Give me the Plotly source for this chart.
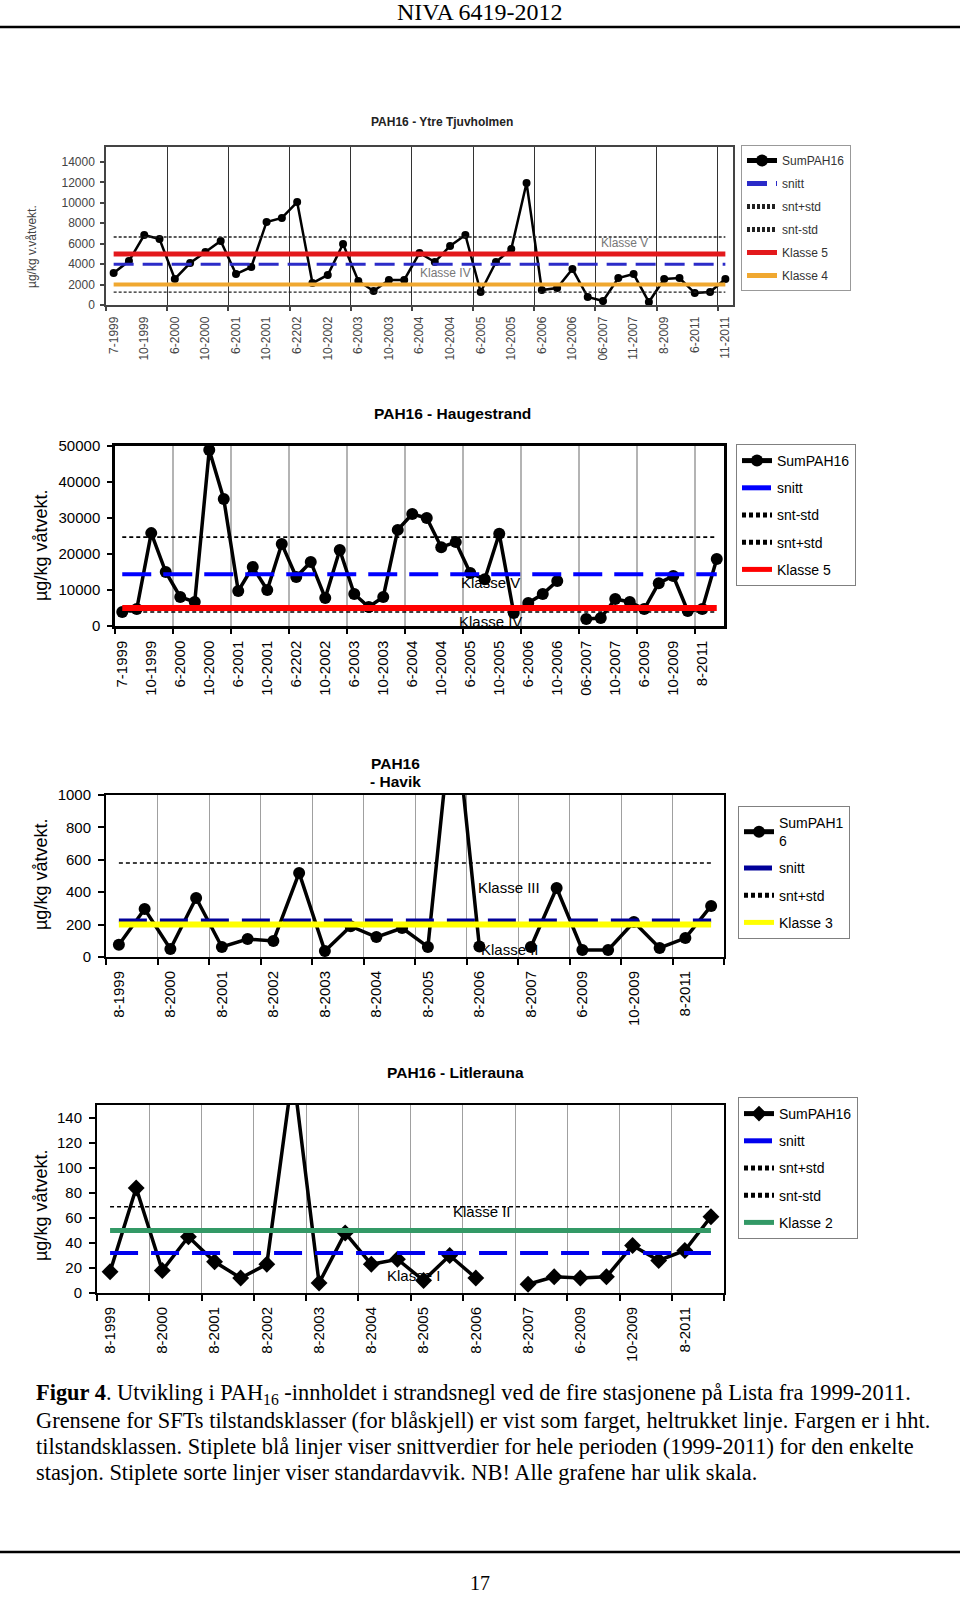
import plotly.graph_objects as go

W, H = 960, 1597
def px(x): return x / W
def py(y): return 1 - y / H

SANS = "Liberation Sans, Arial, sans-serif"
SERIF = "Liberation Serif, Times New Roman, serif"

# ---------------- data ----------------
# PAH16 - Ytre Tjuvholmen
ytre_labels = ["7-1999", "10-1999", "6-2000", "10-2000", "6-2001", "10-2001", "6-2202",
               "10-2002", "6-2003", "10-2003", "6-2004", "10-2004", "6-2005", "10-2005",
               "6-2006", "10-2006", "06-2007", "11-2007", "8-2009", "6-2011", "11-2011"]
ytre_sum = [3130, 4300, 6850, 6460, 2550, 4110, 5190, 6270, 3030, 3720, 8130, 8520, 10080,
            2150, 2940, 5970, 2350, 1370, 2450, 2450, 5090, 4210, 5780, 6850, 1270, 4210,
            5480, 11940, 1470, 1660, 3520, 780, 390, 2640, 3030, 290, 2550, 2640, 1170,
            1270, 2550]
ytre_snitt = 4000
ytre_snt_plus = 6660
ytre_snt_minus = 1270
ytre_klasse5 = 5000
ytre_klasse4 = 2000

# PAH16 - Haugestrand
haug_labels = ["7-1999", "10-1999", "6-2000", "10-2000", "6-2001", "10-2001", "6-2202",
               "10-2002", "6-2003", "10-2003", "6-2004", "10-2004", "6-2005", "10-2005",
               "6-2006", "10-2006", "06-2007", "10-2007", "6-2009", "10-2009", "8-2011"]
haug_sum = [3890, 4700, 25800, 15000, 8060, 6670, 48900, 35300, 9720, 16400, 10000, 22800,
            13600, 17800, 7780, 21100, 8890, 5280, 8060, 26700, 31100, 30000, 21900, 23300,
            14700, 13000, 25600, 3610, 6390, 8890, 12500, None, 1940, 2220, 7500, 6670,
            4720, 11900, 13900, 4170, 4720, 18600]
haug_snitt = 14400
haug_snt_minus = 3900
haug_snt_plus = 24700
haug_klasse5 = 5000

# PAH16 - Havik
havik_labels = ["8-1999", "8-2000", "8-2001", "8-2002", "8-2003", "8-2004", "8-2005",
                "8-2006", "8-2007", "6-2009", "10-2009", "8-2011"]
havik_sum = [75, 296, 49, 364, 62, 111, 99, 519, 37, 190, 123, 179, 62, 1600, 65, None,
             62, 426, 43, 43, 216, 56, 117, 315]
havik_snitt = 225
havik_snt_plus = 580
havik_klasse3 = 200

# PAH16 - Litlerauna
litle_labels = ["8-1999", "8-2000", "8-2001", "8-2002", "8-2003", "8-2004", "8-2005",
                "8-2006", "8-2007", "6-2009", "10-2009", "8-2011"]
litle_sum = [17, 84, 18, 45, 25, 12, 23, 178, 8, 48, 23, 27, 10, 30, 12, None, 7, 13, 12,
             13, 38, 26, 34, 61]
litle_snitt = 32
litle_snt_plus = 69
litle_snt_minus = -5
litle_klasse2 = 50

fig = go.Figure()


def axref(i):
    return ("x", "y") if i == 1 else (f"x{i}", f"y{i}")


def legref(i):
    return "legend" if i == 1 else f"legend{i}"


def add_series(i, values, name, marker_symbol, msize, lwidth):
    xr, yr = axref(i)
    fig.add_trace(go.Scatter(
        x=list(range(1, len(values) + 1)), y=values, name=name, mode="lines+markers",
        line=dict(color="black", width=lwidth),
        marker=dict(symbol=marker_symbol, size=msize, color="black"),
        connectgaps=False, xaxis=xr, yaxis=yr, legend=legref(i),
        legendgroup=f"{i}-{name}", hoverinfo="skip"))


def add_const(i, n, value, name, color, width, dash):
    xr, yr = axref(i)
    fig.add_trace(go.Scatter(
        x=list(range(1, n + 1)), y=[value] * n, name=name, mode="lines",
        line=dict(color=color, width=width, dash=dash),
        xaxis=xr, yaxis=yr, legend=legref(i), legendgroup=f"{i}-{name}",
        hoverinfo="skip"))


layout_axes = {}


def set_axes(i, xdom, ydom, n, labels, grid_step, yrange, dtick, font, gridcolor,
             gridwidth, linecolor, linewidth, xstand, ystand, ticklen):
    xname = "xaxis" if i == 1 else f"xaxis{i}"
    yname = "yaxis" if i == 1 else f"yaxis{i}"
    xr, yr = axref(i)
    layout_axes[xname] = dict(
        domain=[px(xdom[0]), px(xdom[1])], anchor=yr, range=[0.5, n + 0.5],
        tickmode="array", tickvals=list(range(1, n + 1, 2)), ticktext=labels,
        tickangle=-90, ticks="", showgrid=False, zeroline=False, automargin=False,
        showline=True, linecolor=linecolor, linewidth=linewidth, mirror=True,
        tickfont=font, ticklabelstandoff=xstand,
        minor=dict(tickmode="array",
                   tickvals=[0.5 + k * grid_step for k in range(n // grid_step + 1)],
                   ticks="outside", ticklen=ticklen, tickcolor=linecolor, tickwidth=1.5,
                   showgrid=True, gridcolor=gridcolor, gridwidth=gridwidth),
    )
    layout_axes[yname] = dict(
        domain=[py(ydom[1]), py(ydom[0])], anchor=xr, range=yrange, dtick=dtick,
        tick0=0, tickformat="d", ticks="outside", ticklen=ticklen, tickcolor=linecolor,
        tickwidth=1.5, showgrid=False, zeroline=False, showline=True, automargin=False,
        linecolor=linecolor, linewidth=linewidth, mirror=True, tickfont=font,
        ticklabelstandoff=ystand,
    )


# ---------- chart 1: Ytre Tjuvholmen ----------
n1 = len(ytre_sum)
add_series(1, ytre_sum, "SumPAH16", "circle", 8, 2.5)
add_const(1, n1, ytre_snitt, "snitt", "#2b2bc8", 3, "20px,9px")
add_const(1, n1, ytre_snt_plus, "snt+std", "#222222", 1.3, "3px,2px")
add_const(1, n1, ytre_snt_minus, "snt-std", "#222222", 1.3, "3px,2px")
add_const(1, n1, ytre_klasse5, "Klasse 5", "#e3191c", 5, "solid")
add_const(1, n1, ytre_klasse4, "Klasse 4", "#f0a830", 4, "solid")
set_axes(1, (106, 733), (147, 305), n1, ytre_labels, 4, [0, 15470], 2000,
         dict(family=SANS, size=12, color="#444"), "#333333", 1, "#444444", 1.5, 5, 3, 4)

# ---------- chart 2: Haugestrand ----------
n2 = len(haug_sum)
add_series(2, haug_sum, "SumPAH16", "circle", 12, 3.5)
add_const(2, n2, haug_snitt, "snitt", "#0000ff", 4, "29px,12px")
add_const(2, n2, haug_snt_minus, "snt-std", "black", 1.6, "4px,3px")
add_const(2, n2, haug_snt_plus, "snt+std", "black", 1.6, "4px,3px")
add_const(2, n2, haug_klasse5, "Klasse 5", "#ff0000", 6, "solid")
set_axes(2, (115, 724), (446, 626), n2, haug_labels, 4, [0, 50000], 10000,
         dict(family=SANS, size=15, color="black"), "#b4b4b4", 1.5, "black", 2.5, 6, 4, 5)

# ---------- chart 3: Havik ----------
n3 = len(havik_sum)
add_series(3, havik_sum, "SumPAH1<br>6", "circle", 12, 3.5)
add_const(3, n3, havik_snitt, "snitt", "#000099", 4, "28px,13px")
add_const(3, n3, havik_snt_plus, "snt+std", "black", 1.6, "4px,3px")
add_const(3, n3, havik_klasse3, "Klasse 3", "#ffff00", 6, "solid")
set_axes(3, (106, 724), (795, 957), n3, havik_labels, 2, [0, 1000], 200,
         dict(family=SANS, size=15, color="black"), "#a0a0a0", 1, "black", 2, 6, 4, 6)

# ---------- chart 4: Litlerauna ----------
n4 = len(litle_sum)
add_series(4, litle_sum, "SumPAH16", "diamond", 13, 3.5)
add_const(4, n4, litle_snitt, "snitt", "#0000ee", 4, "28px,13px")
add_const(4, n4, litle_snt_plus, "snt+std", "black", 1.6, "4px,3px")
add_const(4, n4, litle_snt_minus, "snt-std", "black", 1.6, "4px,3px")
add_const(4, n4, litle_klasse2, "Klasse 2", "#339966", 5, "solid")
set_axes(4, (97, 724), (1105, 1293), n4, litle_labels, 2, [0, 150.4], 20,
         dict(family=SANS, size=15, color="black"), "#a0a0a0", 1, "black", 2, 6, 4, 6)


def legend_cfg(x, y, size, color, border, gap):
    return dict(x=px(x), y=py(y), xanchor="left", yanchor="top", xref="paper", yref="paper",
                bgcolor="white", bordercolor=border, borderwidth=1,
                font=dict(family=SANS, size=size, color=color),
                traceorder="grouped", tracegroupgap=gap, itemsizing="constant")


annotations = []


def text(x, y, s, size, color="black", family=SANS, angle=0, xanchor="center",
         xref="paper", yref="paper"):
    annotations.append(dict(x=x, y=y, xref=xref, yref=yref, text=s, showarrow=False,
                            textangle=angle, xanchor=xanchor, yanchor="middle",
                            font=dict(family=family, size=size, color=color)))


# header / footer
text(0.5, py(12), "NIVA 6419-2012", 24, family=SERIF)
text(0.5, py(1583), "17", 20, family=SERIF)

# chart titles
text(px(442), py(122), "<b>PAH16 - Ytre Tjuvholmen</b>", 12, color="#222")
text(px(452), py(414), "<b>PAH16 - Haugestrand</b>", 15.5)
text(px(395), py(763), "<b>PAH16</b>", 15.5)
text(px(395), py(781), "<b>- Havik</b>", 15.5)
text(px(455), py(1072), "<b>PAH16 - Litlerauna</b>", 15.5)

# y axis titles
text(px(32), py(247), "µg/kg v.våtvekt.", 12, color="#444", angle=-90)
text(px(41), py(546), "µg/kg våtvekt.", 18, angle=-90)
text(px(41), py(875), "µg/kg våtvekt.", 18, angle=-90)
text(px(41), py(1206), "µg/kg våtvekt.", 18, angle=-90)

# class labels inside plots
text(34.4, 6070, "Klasse V", 12, color="#777", xref="x", yref="y")
text(22.7, 3130, "Klasse IV", 12, color="#777", xref="x", yref="y")
text(26.4, 12200, "Klasse V", 15, xref="x2", yref="y2")
text(26.4, 1300, "Klasse IV", 15, xref="x2", yref="y2")
text(16.15, 426, "Klasse III", 15, xref="x3", yref="y3")
text(16.2, 49, "Klasse II", 15, xref="x3", yref="y3")
text(15.24, 65, "Klasse II", 15, xref="x4", yref="y4")
text(12.6, 14, "Klasse I", 15, xref="x4", yref="y4")

# caption
cap = [
    "<b>Figur 4</b>. Utvikling i PAH<sub>16</sub> -innholdet i strandsnegl ved de fire stasjonene på Lista fra 1999-2011.",
    "Grensene for SFTs tilstandsklasser (for blåskjell) er vist som farget, heltrukket linje. Fargen er i hht.",
    "tilstandsklassen. Stiplete blå linjer viser snittverdier for hele perioden (1999-2011) for den enkelte",
    "stasjon. Stiplete sorte linjer viser standardavvik. NB! Alle grafene har ulik skala.",
]
for k, line in enumerate(cap):
    text(px(34), py(1394 + 26 * k), line, 22.4, family=SERIF, xanchor="left")

shapes = [
    dict(type="line", xref="paper", yref="paper", x0=0, x1=1, y0=py(27), y1=py(27),
         line=dict(color="black", width=2.5)),
    dict(type="line", xref="paper", yref="paper", x0=0, x1=1, y0=py(1552), y1=py(1552),
         line=dict(color="black", width=2.5)),
]

fig.update_layout(
    width=W, height=H, margin=dict(l=0, r=0, t=0, b=0, pad=0, autoexpand=False),
    autosize=False, paper_bgcolor="white", plot_bgcolor="white", showlegend=True,
    legend=legend_cfg(741, 145, 12, "#333", "#999", 4),
    legend2=legend_cfg(736, 444, 14, "black", "#808080", 6),
    legend3=legend_cfg(738, 806, 14, "black", "#808080", 6),
    legend4=legend_cfg(738, 1097, 14, "black", "#808080", 6),
    annotations=annotations, shapes=shapes,
    **layout_axes,
)

fig.write_html("out.html", config={"displayModeBar": False},
               post_script="document.body.style.margin='0';document.body.style.overflow='hidden';")
